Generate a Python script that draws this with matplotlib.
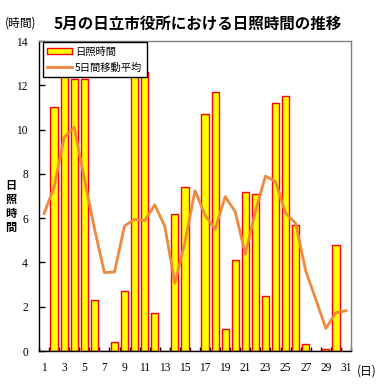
import matplotlib
matplotlib.use("Agg")
import matplotlib.pyplot as plt
from matplotlib.patches import Patch
from matplotlib.lines import Line2D

plt.rcParams['font.family'] = ['Noto Sans CJK JP', 'DejaVu Sans']

days = list(range(1, 32))
sunshine = [0, 11.0, 12.5, 12.3, 12.3, 2.3, 0, 0.4, 2.7, 12.4, 12.6, 1.7, 0, 6.2, 7.4,
            0, 10.7, 11.7, 1.0, 4.1, 7.2, 7.1, 2.5, 11.2, 11.5, 5.7, 0.3, 0, 0.1, 4.8, 0]
moving_avg = [6.2, 7.4, 9.65, 10.1, 7.8, 5.55, 3.54, 3.57, 5.65, 5.95, 5.88, 6.6, 5.63,
              3.06, 4.9, 7.24, 6.14, 5.5, 6.97, 6.29, 4.38, 6.3, 7.9, 7.65, 6.22, 5.77,
              3.62, 2.33, 1.02, 1.73, 1.82]
xtick_labels = [str(d) for d in range(1, 32, 2)]
yticks = list(range(0, 15, 2))
ylabel_text = '日\n照\n時\n間'

fig = plt.figure(figsize=(3.88, 3.89), dpi=100)
ax = fig.add_axes([39/388, 38/389, 312/388, 310/389])

ax.bar(days, sunshine, width=0.72, color='#FFFF00', edgecolor='#FF0000', linewidth=1.0, zorder=2)
ax.plot(days, moving_avg, color='#F0883E', linewidth=2.0, zorder=3)

ax.set_xlim(0.5, 31.5)
ax.set_ylim(0, 14)
ax.set_yticks(yticks)
ax.set_yticklabels([str(v) for v in yticks], family='Liberation Serif', fontsize=8.3)
ax.set_xticks(range(1, 32, 2))
ax.set_xticklabels(xtick_labels, family='Liberation Serif', fontsize=8.3)
ax.set_xticks([d + 0.5 for d in range(0, 32)], minor=True)
ax.tick_params(axis='x', which='major', length=0, pad=8)
ax.tick_params(axis='x', which='minor', direction='in', length=3, width=1, color='black')
ax.tick_params(axis='y', direction='in', length=4, width=1, pad=8)

for s in ['left', 'bottom']:
    ax.spines[s].set_color('black')
    ax.spines[s].set_linewidth(1.0)
for s in ['top', 'right']:
    ax.spines[s].set_color('#808080')
    ax.spines[s].set_linewidth(1.0)

handles = [Patch(facecolor='#FFFF00', edgecolor='#FF0000', linewidth=1.0),
           Line2D([0], [0], color='#F0883E', linewidth=2.0)]
leg = ax.legend(handles, ['日照時間', '5日間移動平均'], loc='upper left',
                bbox_to_anchor=(0.012, 0.996), fontsize=7.4, frameon=True,
                fancybox=False, framealpha=1, edgecolor='black',
                handlelength=2.4, handleheight=0.5, handletextpad=0.3,
                labelspacing=0.55, borderpad=0.45, borderaxespad=0)
leg.get_frame().set_linewidth(1.0)

fig.text(198/388, 1 - 24/389, '5月の日立市役所における日照時間の推移', ha='center', va='center',
         fontsize=11.2, fontweight='bold')
fig.text(21/388, 1 - 23/389, '(時間)', ha='center', va='center', fontsize=8.5)
fig.text(367/388, 1 - 371/389, '(日)', ha='center', va='center', fontsize=8.5)
fig.text(11/388, 1 - 206/389, ylabel_text, ha='center', va='center', fontsize=8,
         fontweight='bold', linespacing=1.1)

fig.savefig('out.png', dpi=100)
